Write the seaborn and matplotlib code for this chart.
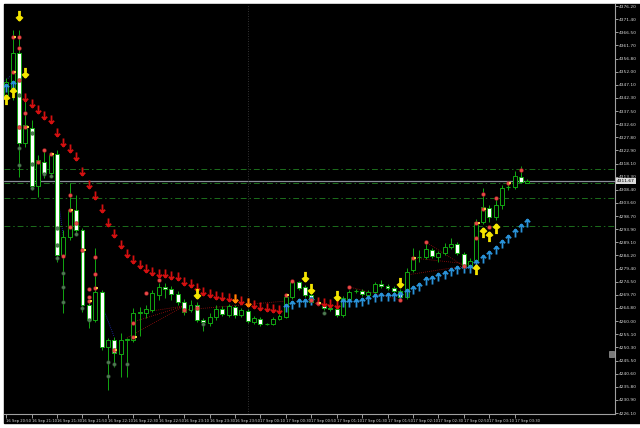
import matplotlib
matplotlib.use("Agg")
import matplotlib.pyplot as plt
from matplotlib.path import Path
from matplotlib.patches import Rectangle
import pandas as pd
import seaborn as sns

# 5 minute bars (bar 38 = 17 Sep 00:00)
opens = [4343.4, 4345.2, 4358.9, 4325.7, 4331.2, 4309.8, 4318.7, 4314.6, 4321.6, 4284.4,
         4291.0, 4301.0, 4293.6, 4266.0, 4260.4, 4270.7, 4250.5, 4253.0, 4247.9, 4253.2,
         4253.0, 4263.0, 4263.0, 4264.1, 4269.6, 4272.6, 4271.8, 4270.0, 4267.1, 4264.1,
         4266.0, 4260.4, 4259.3, 4261.5, 4264.5, 4262.3, 4265.2, 4262.3, 4263.7, 4259.7,
         4260.8, 4258.9, 4258.9, 4260.8, 4261.5, 4268.9, 4274.4, 4272.6, 4269.6, 4266.7,
         4265.6, 4264.8, 4264.5, 4262.3, 4268.2, 4270.9, 4271.1, 4269.6, 4270.7, 4273.7,
         4273.0, 4272.2, 4271.1, 4268.9, 4278.9, 4283.6, 4283.6, 4286.2, 4283.6, 4285.1,
         4287.3, 4288.4, 4284.8, 4280.0, 4282.5, 4296.6, 4301.7, 4298.4, 4302.8, 4309.5,
         4309.5, 4313.2, 4311.1]
highs = [4349.6, 4367.4, 4367.4, 4343.4, 4334.2, 4321.3, 4323.1, 4322.4, 4323.1, 4293.6,
         4310.9, 4306.5, 4294.3, 4267.8, 4287.0, 4271.5, 4253.8, 4254.1, 4255.6, 4253.8,
         4264.8, 4265.2, 4266.0, 4271.5, 4274.1, 4274.1, 4273.0, 4271.1, 4268.2, 4267.8,
         4267.1, 4261.2, 4263.0, 4266.0, 4265.6, 4266.3, 4266.0, 4264.8, 4264.5, 4261.9,
         4261.5, 4259.3, 4261.5, 4262.6, 4269.6, 4275.2, 4274.8, 4273.3, 4270.4, 4267.8,
         4266.3, 4265.6, 4265.2, 4269.3, 4271.5, 4271.8, 4271.8, 4271.5, 4274.4, 4275.2,
         4273.7, 4273.0, 4271.8, 4279.6, 4287.0, 4286.2, 4289.2, 4287.0, 4285.9, 4288.8,
         4290.7, 4289.2, 4285.5, 4283.3, 4297.7, 4309.1, 4302.8, 4305.8, 4310.2, 4310.9,
         4315.4, 4317.2, 4312.4]
lows = [4341.5, 4341.5, 4313.2, 4324.2, 4308.4, 4305.8, 4312.8, 4313.2, 4281.8, 4263.0,
        4289.9, 4291.8, 4263.4, 4257.5, 4259.7, 4249.4, 4234.6, 4243.1, 4239.4, 4239.4,
        4252.3, 4254.5, 4261.2, 4263.4, 4267.8, 4268.5, 4267.8, 4266.0, 4262.3, 4263.4,
        4259.7, 4256.4, 4258.2, 4260.4, 4261.9, 4261.5, 4261.2, 4261.5, 4259.3, 4258.9,
        4258.2, 4258.6, 4258.6, 4260.4, 4261.2, 4268.2, 4271.5, 4268.9, 4266.3, 4266.0,
        4264.1, 4263.7, 4261.5, 4261.5, 4267.4, 4270.4, 4269.3, 4269.3, 4270.4, 4272.2,
        4271.5, 4270.4, 4268.2, 4268.2, 4278.1, 4281.8, 4282.9, 4283.3, 4281.8, 4284.4,
        4286.6, 4284.4, 4279.6, 4278.9, 4281.8, 4295.8, 4296.6, 4297.3, 4301.3, 4308.4,
        4308.7, 4310.9, 4310.9]
closes = [4348.2, 4358.9, 4325.7, 4332.3, 4309.8, 4319.4, 4314.6, 4321.3, 4284.4, 4291.0,
          4301.0, 4293.6, 4266.0, 4260.4, 4270.7, 4250.5, 4253.0, 4248.2, 4253.0, 4253.5,
          4263.0, 4263.4, 4264.5, 4270.4, 4272.6, 4271.8, 4270.0, 4267.1, 4263.4, 4266.0,
          4260.4, 4259.7, 4261.5, 4264.5, 4262.6, 4265.6, 4262.3, 4264.1, 4260.1, 4261.2,
          4258.9, 4258.8, 4260.8, 4261.9, 4268.9, 4274.4, 4272.2, 4269.6, 4267.1, 4266.5,
          4264.8, 4264.3, 4262.3, 4268.5, 4270.7, 4271.1, 4270.0, 4270.7, 4273.7, 4273.0,
          4272.2, 4271.1, 4268.9, 4278.1, 4283.6, 4283.5, 4286.6, 4284.0, 4285.1, 4287.3,
          4288.4, 4285.1, 4280.3, 4282.2, 4296.6, 4302.1, 4298.4, 4302.8, 4309.1, 4309.3,
          4313.5, 4311.3, 4311.67]

# trailing-stop arrows
red_down_bar = list(range(3, 44)) + [49, 50, 51, 52]
red_down_price = [4342.6, 4340.4, 4338.2, 4336.0, 4334.5, 4329.7, 4326.1, 4323.8, 4320.9, 4315.4,
                  4310.6, 4306.5, 4301.7, 4296.6, 4292.5, 4288.4, 4285.1, 4282.9, 4281.1, 4279.6,
                  4278.5, 4277.7, 4277.7, 4277.0, 4276.6, 4274.8, 4274.1, 4272.6, 4271.1, 4270.4,
                  4269.6, 4269.3, 4268.9, 4268.5, 4267.8, 4267.1, 4266.3, 4265.6, 4265.2, 4264.8,
                  4264.5, 4267.4, 4267.0, 4266.7, 4266.3]
orange_down_bar = [36, 38]
orange_down_price = [4268.5, 4267.1]
blue_up_bar = [0, 1, 44, 45, 46, 47, 48] + list(range(53, 83))
blue_up_price = [4346.0, 4347.1, 4264.8, 4266.0, 4266.7, 4266.7, 4267.4,
                 4266.7, 4266.7, 4266.7, 4267.1, 4267.8, 4268.5, 4268.9, 4268.9, 4268.9, 4269.3,
                 4270.4, 4271.5, 4272.6, 4274.8, 4275.2, 4276.3, 4277.0, 4278.1, 4278.9, 4279.2,
                 4279.2, 4281.1, 4282.9, 4284.4, 4286.2, 4288.4, 4290.3, 4292.5, 4294.3, 4296.2]
yellow_down_bar = [2, 3, 30, 47, 48, 52, 62]
yellow_down_price = [4372.9, 4351.9, 4270.4, 4276.6, 4272.2, 4269.6, 4274.4]
yellow_up_bar = [0, 1, 74, 75, 76, 77]
yellow_up_price = [4341.5, 4344.1, 4278.9, 4292.5, 4291.0, 4294.0]

# small dots
red_dot_bar = [1, 2, 2, 1, 2, 3, 3, 2, 6, 7, 5, 10, 10, 10, 11, 12, 14, 14, 14, 13, 13, 13, 9,
               20, 20, 22, 24, 17, 28, 30, 44, 45, 48, 49, 54, 62, 64, 66, 72, 74, 74, 75, 75,
               76, 77, 79, 81]
red_dot_price = [4364.8, 4364.8, 4360.7, 4351.9, 4348.9, 4336.8, 4331.6, 4331.6, 4323.1, 4321.6,
                 4318.7, 4306.5, 4301.0, 4294.7, 4296.2, 4286.2, 4283.6, 4277.4, 4272.2, 4271.8,
                 4268.9, 4267.4, 4284.0, 4259.3, 4254.1, 4270.4, 4275.2, 4249.4, 4264.1, 4264.8,
                 4269.6, 4274.8, 4267.8, 4266.7, 4272.6, 4267.8, 4283.3, 4289.2, 4280.3, 4296.2,
                 4290.7, 4306.9, 4301.3, 4294.7, 4305.4, 4310.9, 4315.8]
green_dot_bar = [2, 2, 2, 4, 4, 4, 6, 7, 8, 8, 8, 9, 9, 9, 11, 12, 13, 16, 16, 17, 19, 31, 50]
green_dot_price = [4343.4, 4323.8, 4317.6, 4329.4, 4318.0, 4309.1, 4314.1, 4313.4, 4294.3, 4288.1,
                   4283.3, 4277.7, 4272.6, 4267.1, 4292.1, 4264.8, 4260.4, 4245.0, 4239.8, 4244.3,
                   4244.3, 4258.9, 4263.0]

# dotted trend segments (bar, price) pairs
red_segments = [[(19, 4253.8), (28, 4265.6)], [(20, 4259.7), (28, 4265.6)],
                [(22, 4263.4), (28, 4265.6)], [(28, 4264.1), (44, 4267.4)],
                [(54, 4272.6), (62, 4267.8)], [(66, 4289.2), (72, 4280.3)],
                [(63, 4277.0), (72, 4280.3)], [(64, 4283.3), (73, 4281.0)]]
blue_segments = [[(8, 4308.0), (9, 4291.0)], [(15, 4266.3), (17, 4254.1)],
                 [(-0.5, 4348.0), (1, 4351.0)]]

level_prices = [4316.0, 4310.8, 4305.3, 4295.2]
current_price = 4311.67
separator_bar = 38

ytick_values = [4226.10, 4230.94, 4235.78, 4240.63, 4245.47, 4250.31, 4255.15, 4259.99,
                4264.84, 4269.68, 4274.52, 4279.36, 4284.20, 4289.05, 4293.89, 4298.73,
                4303.57, 4308.41, 4313.26, 4318.10, 4322.94, 4327.78, 4332.62, 4337.46,
                4342.31, 4347.15, 4351.99, 4356.83, 4361.67, 4366.52, 4371.36, 4376.20]
ytick_labels = ["%.1f0" % v for v in ytick_values]
xtick_bars = list(range(0, 84, 4))
xtick_labels = ["16 Sep 20:50", "16 Sep 21:10", "16 Sep 21:30", "16 Sep 21:50", "16 Sep 22:10",
                "16 Sep 22:30", "16 Sep 22:50", "16 Sep 23:10", "16 Sep 23:30", "16 Sep 23:50",
                "17 Sep 00:10", "17 Sep 00:30", "17 Sep 00:50", "17 Sep 01:10", "17 Sep 01:30",
                "17 Sep 01:50", "17 Sep 02:10", "17 Sep 02:30", "17 Sep 02:50", "17 Sep 03:10",
                "17 Sep 03:30"]

df = pd.DataFrame({"open": opens, "high": highs, "low": lows, "close": closes})
df["bar"] = range(len(df))

sns.set_theme(style="dark", rc={"axes.facecolor": "black", "figure.facecolor": "white"})
plt.rcParams["font.family"] = ["DejaVu Sans"]

fig = plt.figure(figsize=(6.4, 4.28), dpi=100)
fig.patches.append(Rectangle((4 / 640, 1 - 423 / 428), 636 / 640, 419 / 428,
                             transform=fig.transFigure, color="black", zorder=-10))
ax = fig.add_axes([4 / 640, 1 - 414 / 428, 611 / 640, 410 / 428])
ax.set_facecolor("black")

green = "#12a812"
w = 0.62
for r in df.itertuples():
    ax.vlines(r.bar, r.low, r.high, color=green, lw=0.7, zorder=2)
    lo, hi = min(r.open, r.close), max(r.open, r.close)
    face = "black" if r.close >= r.open else "white"
    if hi - lo < 0.25:
        ax.hlines(r.close, r.bar - w / 2, r.bar + w / 2, color=green, lw=0.8, zorder=3)
    else:
        ax.add_patch(Rectangle((r.bar - w / 2, lo), w, hi - lo, facecolor=face,
                               edgecolor=green, lw=0.7, zorder=3))

for seg in red_segments:
    xs, ys = zip(*seg)
    ax.plot(xs, ys, color="#a01010", lw=0.6, ls=(0, (1, 1.5)), zorder=1)
for seg in blue_segments:
    xs, ys = zip(*seg)
    ax.plot(xs, ys, color="#2030c0", lw=0.6, ls=(0, (1, 1.5)), zorder=1)

for lv in level_prices:
    ax.axhline(lv, color="#1c6e1c", lw=0.7, ls=(0, (6, 3, 1.5, 3)), zorder=1)
ax.axhline(current_price, color="#8c8e9c", lw=0.9, zorder=1)
ax.axvline(separator_bar, color="#444444", lw=0.6, ls=(0, (1, 2)), zorder=1)

down = Path([(0, 1), (0, -1), (-0.65, -0.3), (0, -1), (0.65, -0.3)],
            [Path.MOVETO, Path.LINETO, Path.MOVETO, Path.LINETO, Path.LINETO])
up = Path([(0, -1), (0, 1), (-0.65, 0.3), (0, 1), (0.65, 0.3)],
          [Path.MOVETO, Path.LINETO, Path.MOVETO, Path.LINETO, Path.LINETO])

def arrows(xs, ys, path, color, ms, mew):
    ax.plot(xs, ys, ls="none", marker=path, ms=ms, mec=color, mfc="none", mew=mew, zorder=5)

arrows(red_down_bar, red_down_price, down, "#d41010", 5.8, 1.3)
arrows(orange_down_bar, orange_down_price, down, "#ff8a00", 5.8, 1.4)
arrows(blue_up_bar, blue_up_price, up, "#2a92d8", 5.8, 1.3)
arrows(yellow_down_bar, yellow_down_price, down, "#f4e400", 6.6, 2.0)
arrows(yellow_up_bar, yellow_up_price, up, "#f4e400", 6.6, 2.0)

sns.scatterplot(x=red_dot_bar, y=red_dot_price, ax=ax, s=8, color="#e84848",
                edgecolor="#7a1010", linewidth=0.3, zorder=6)
sns.scatterplot(x=[b + 0.35 for b in red_dot_bar[::3]], y=red_dot_price[::3], ax=ax, s=4,
                marker="s", color="#f0d040", linewidth=0, zorder=6)
sns.scatterplot(x=green_dot_bar, y=green_dot_price, ax=ax, s=7, color="#4e7a52",
                edgecolor="#2a402a", linewidth=0.3, zorder=6)

ax.set_xlim(-0.35, 95.8)
ax.set_ylim(4225.75, 4376.94)
ax.yaxis.tick_right()
ax.set_yticks(ytick_values)
ax.set_yticklabels(ytick_labels)
ax.set_xticks(xtick_bars)
ax.set_xticklabels(xtick_labels, ha="left")
ax.tick_params(axis="y", colors="#d8d8d8", labelsize=3.2, length=2, width=0.5, pad=1,
               direction="out", right=True, left=False)
ax.tick_params(axis="x", colors="#d8d8d8", labelsize=2.7, length=3, width=0.5, pad=0.8,
               direction="out", bottom=True)
ax.grid(False)
for side in ["top", "left"]:
    ax.spines[side].set_visible(False)
for side in ["right", "bottom"]:
    ax.spines[side].set_color("#a0a0a0")
    ax.spines[side].set_linewidth(0.8)

ax.text(1.003, current_price, "%.2f" % current_price, transform=ax.get_yaxis_transform(),
        fontsize=3.2, color="black", va="center", ha="left",
        bbox=dict(facecolor="#dcdcdc", edgecolor="none", pad=0.6))
ax.add_patch(Rectangle((0.990, 0.138), 0.009, 0.016, transform=ax.transAxes,
                       facecolor="#7a7a7a", edgecolor="#b0b0b0", lw=0.4, zorder=7))

fig.savefig("out.png", dpi=100, facecolor="white")
